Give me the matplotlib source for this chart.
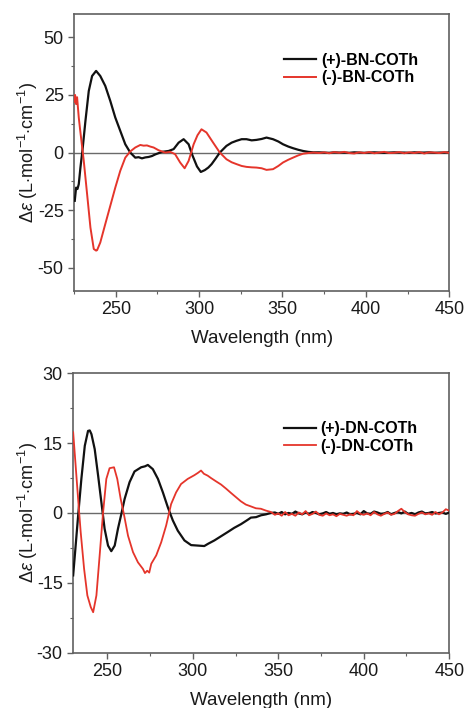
import matplotlib
matplotlib.use("Agg")
import matplotlib.pyplot as plt
from matplotlib.ticker import MultipleLocator

plt.rcParams['font.family'] = ['Liberation Sans', 'DejaVu Sans']
plt.rcParams['mathtext.fontset'] = 'custom'
plt.rcParams['mathtext.rm'] = 'Liberation Sans'
plt.rcParams['mathtext.it'] = 'Liberation Sans:italic'
plt.rcParams['axes.unicode_minus'] = False

# ---------------- Data: top panel (BN-COTh) ----------------
bn_plus_wl = [225.4, 226.2, 227.0, 227.8, 228.8, 230.2, 231.8, 233.8, 235.8, 238.2,
              240.7, 243.7, 246.7, 249.7, 252.7, 255.7, 258.7, 261.7, 263.7, 265.7,
              267.7, 269.7, 271.7, 273.7, 277.7, 281.7, 284.7, 287.7, 290.7, 293.7,
              295.7, 298.7, 301.0, 303.4, 305.5, 307.5, 310.0, 312.4, 316.4, 319.5,
              322.4, 325.5, 328.4, 331.5, 334.4, 337.5, 340.4, 344.3, 347.5, 350.3,
              353.5, 356.3, 359.5, 362.3, 365.5, 368.5]
bn_plus_de = [-20.9, -15.2, -15.8, -13.7, -6.5, 2.2, 13.7, 26.7, 33.2, 35.4,
              33.2, 28.9, 22.4, 15.2, 9.4, 3.6, 0.0, -2.2, -2.0, -2.5,
              -2.1, -1.9, -1.5, -0.8, 0.3, 0.7, 1.5, 4.3, 5.8, 3.6,
              -0.7, -6.0, -8.4, -7.6, -6.5, -5.0, -2.5, 0.0, 2.9, 4.3,
              5.1, 5.8, 5.8, 5.3, 5.5, 5.9, 6.5, 5.8, 4.8, 3.6,
              2.6, 1.9, 1.2, 0.7, 0.3, 0.1]
bn_minus_wl = [225.0, 225.6, 226.2, 226.8, 227.8, 228.6, 229.4, 230.8, 232.8, 234.8,
               236.8, 238.2, 238.8, 240.7, 243.7, 246.7, 249.7, 252.7, 255.7, 258.7,
               261.7, 264.7, 266.7, 268.7, 270.7, 272.7, 275.7, 279.7, 282.7, 285.6,
               288.6, 291.3, 293.7, 296.7, 299.0, 301.4, 304.4, 308.4, 312.4, 316.4,
               319.5, 322.4, 325.5, 328.4, 331.5, 334.4, 337.5, 340.4, 344.3, 347.5,
               350.3, 353.5, 356.3, 359.5, 362.3, 365.5, 368.5]
bn_minus_de = [22.0, 25.0, 21.0, 24.0, 15.2, 10.0, 5.1, -3.6, -18.0, -32.5,
               -41.8, -42.5, -42.3, -39.0, -31.0, -23.1, -15.2, -7.9, -2.2, 0.5,
               2.2, 3.3, 3.0, 3.1, 2.6, 2.2, 1.0, 0.0, 0.3, -0.7,
               -4.3, -6.8, -3.6, 3.6, 7.5, 10.1, 8.7, 4.3, 0.0, -2.9,
               -4.2, -5.0, -5.8, -6.2, -6.4, -6.5, -6.8, -7.5, -7.2, -5.8,
               -4.3, -3.1, -2.2, -1.2, -0.5, -0.2, 0.0]
bn_tail_wl = list(range(372, 451, 3))
bn_plus_tail = [0.1, 0.0, -0.1, 0.1, 0.0, 0.0, -0.1, 0.1, 0.0, -0.1,
                0.0, 0.1, 0.0, -0.1, 0.0, 0.1, 0.0, 0.0, -0.1, 0.1,
                0.0, 0.0, 0.1, -0.1, 0.0, 0.0, 0.1]
bn_minus_tail = [-0.2, 0.1, -0.3, 0.2, -0.1, 0.3, -0.2, -0.4, 0.1, -0.2,
                 0.2, -0.3, 0.0, 0.3, -0.2, -0.1, 0.2, -0.3, 0.1, -0.2,
                 0.2, -0.4, 0.1, 0.0, -0.2, 0.2, -0.1]

# ---------------- Data: bottom panel (DN-COTh) ----------------
dn_plus_wl = [230.0, 231.3, 232.9, 234.8, 236.8, 238.7, 239.7, 240.7, 242.6, 244.6,
              246.5, 248.4, 250.4, 252.3, 254.3, 256.2, 258.2, 260.1, 263.0, 265.9,
              269.8, 272.0, 273.7, 276.6, 279.6, 282.5, 285.4, 288.3, 291.2, 295.1,
              299.0, 302.9, 306.7, 309.0, 312.6, 316.5, 320.4, 324.2, 328.2, 332.0,
              334.0, 337.0, 339.9, 342.8, 345.7]
dn_plus_de = [-13.4, -7.7, -0.6, 7.3, 14.4, 17.6, 17.7, 16.9, 13.7, 8.0,
              2.3, -3.4, -7.0, -8.2, -7.0, -3.4, -0.2, 3.0, 6.6, 8.9,
              9.8, 10.0, 10.3, 9.4, 7.3, 4.4, 1.2, -1.6, -3.8, -5.9,
              -6.9, -7.0, -7.1, -6.6, -5.9, -5.0, -4.1, -3.2, -2.4, -1.5,
              -1.0, -0.9, -0.5, -0.3, 0.0]
dn_minus_wl = [230.0, 231.3, 232.9, 234.4, 236.4, 238.3, 240.3, 241.7, 243.6, 245.5,
               247.5, 249.4, 251.3, 253.9, 255.8, 257.8, 259.7, 262.1, 265.0, 267.9,
               270.8, 272.0, 273.3, 274.5, 275.7, 278.6, 281.5, 284.4, 287.3, 290.2,
               293.1, 297.0, 300.9, 303.0, 304.8, 306.5, 308.7, 310.6, 313.5, 316.5,
               319.5, 322.3, 325.2, 328.1, 331.0, 334.0, 336.9, 339.8, 342.8, 345.7]
dn_minus_de = [17.3, 10.9, 3.0, -4.1, -12.0, -17.7, -20.2, -21.3, -17.7, -9.1,
               0.1, 7.3, 9.6, 9.8, 7.3, 3.0, -0.3, -4.9, -8.4, -10.6,
               -12.0, -12.9, -12.4, -12.8, -10.9, -9.1, -6.3, -2.7, 1.9, 4.4,
               6.2, 7.3, 8.1, 8.6, 9.1, 8.4, 8.0, 7.5, 6.8, 6.1,
               5.2, 4.3, 3.4, 2.5, 1.8, 1.4, 1.0, 0.9, 0.5, 0.2]
dn_tail_wl = list(range(348, 451, 2))
dn_plus_tail = [0.1, -0.2, 0.2, -0.3, 0.0, -0.2, 0.3, -0.1, -0.3, 0.1,
                -0.2, 0.2, 0.0, -0.3, -0.1, 0.2, -0.2, 0.0, -0.3, -0.1,
                -0.2, 0.1, -0.3, -0.2, 0.0, -0.3, 0.4, -0.1, -0.2, 0.3,
                0.1, -0.2, -0.1, 0.2, -0.3, 0.0, 0.2, -0.1, 0.3, -0.2,
                0.0, -0.3, 0.1, 0.3, -0.1, 0.0, 0.2, -0.1, 0.0, 0.1,
                -0.2, 0.1]
dn_minus_tail = [-0.4, -0.1, -0.6, 0.2, -0.5, -0.2, -0.6, 0.1, -0.3, 0.4,
                 -0.5, -0.2, 0.3, -0.4, -0.6, -0.1, -0.5, -0.3, -0.7, -0.2,
                 -0.4, -0.6, -0.3, -0.5, 0.4, -0.2, -0.4, -0.1, -0.5, 0.2,
                 -0.3, -0.6, -0.2, 0.1, -0.4, -0.2, 0.4, 0.9, 0.2, -0.3,
                 -0.5, -0.6, -0.2, 0.1, -0.3, -0.1, -0.4, 0.2, -0.3, 0.1,
                 0.8, 0.5]

labels_top = ['(+)-BN-COTh', '(-)-BN-COTh']
labels_bot = ['(+)-DN-COTh', '(-)-DN-COTh']
xticks = [250, 300, 350, 400, 450]
yticks_top = [-50, -25, 0, 25, 50]
yticks_bot = [-30, -15, 0, 15, 30]

BLACK = '#111111'
RED = '#e5352b'
FRAME = '#606060'

fig = plt.figure(figsize=(4.66, 7.08), dpi=100)
ax1 = fig.add_axes([0.159, 0.589, 0.805, 0.391])
ax2 = fig.add_axes([0.157, 0.078, 0.807, 0.395])


def style(ax, xlim, ylim, yticks, yminor, ylab_x):
    ax.set_xlim(*xlim)
    ax.set_ylim(*ylim)
    ax.set_xticks(xticks)
    ax.set_yticks(yticks)
    ax.xaxis.set_minor_locator(MultipleLocator(25))
    ax.yaxis.set_minor_locator(MultipleLocator(yminor))
    ax.tick_params(which='both', direction='out', color=FRAME, labelsize=13,
                   labelcolor='#1a1a1a', top=False, right=False, pad=3)
    ax.tick_params(which='major', length=4.5, width=1)
    ax.tick_params(which='minor', length=2.5, width=0.8)
    for s in ax.spines.values():
        s.set_color(FRAME)
        s.set_linewidth(1.2)
    ax.axhline(0, color='#6a6a6a', lw=1.0, zorder=1)
    ax.set_xlabel('Wavelength (nm)', fontsize=13.5, labelpad=8.5, color='#1a1a1a')
    ax.set_ylabel(r'$\Delta\varepsilon$ (L$\cdot$mol$^{-1}$$\cdot$cm$^{-1}$)',
                  fontsize=13, color='#1a1a1a')
    ax.yaxis.set_label_coords(ylab_x, 0.5)


def add_legend(ax, ytop):
    ax.legend(loc='upper left', bbox_to_anchor=(0.56, ytop), frameon=False,
              prop={'weight': 'bold', 'size': 11.5}, handlelength=2.0,
              handletextpad=0.3, labelspacing=0.15, borderpad=0, borderaxespad=0)


ax1.plot(bn_plus_wl + bn_tail_wl, bn_plus_de + bn_plus_tail, color=BLACK, lw=1.6,
         label=labels_top[0], zorder=3)
ax1.plot(bn_minus_wl + bn_tail_wl, bn_minus_de + bn_minus_tail, color=RED, lw=1.4,
         label=labels_top[1], zorder=4)
style(ax1, (225, 450), (-60, 60), yticks_top, 12.5, -0.09)
add_legend(ax1, 0.86)

ax2.plot(dn_plus_wl + dn_tail_wl, dn_plus_de + dn_plus_tail, color=BLACK, lw=1.6,
         label=labels_bot[0], zorder=3)
ax2.plot(dn_minus_wl + dn_tail_wl, dn_minus_de + dn_minus_tail, color=RED, lw=1.3,
         label=labels_bot[1], zorder=4)
style(ax2, (230, 450), (-30, 30), yticks_bot, 7.5, -0.088)
add_legend(ax2, 0.827)

fig.savefig('out.png', dpi=100)
